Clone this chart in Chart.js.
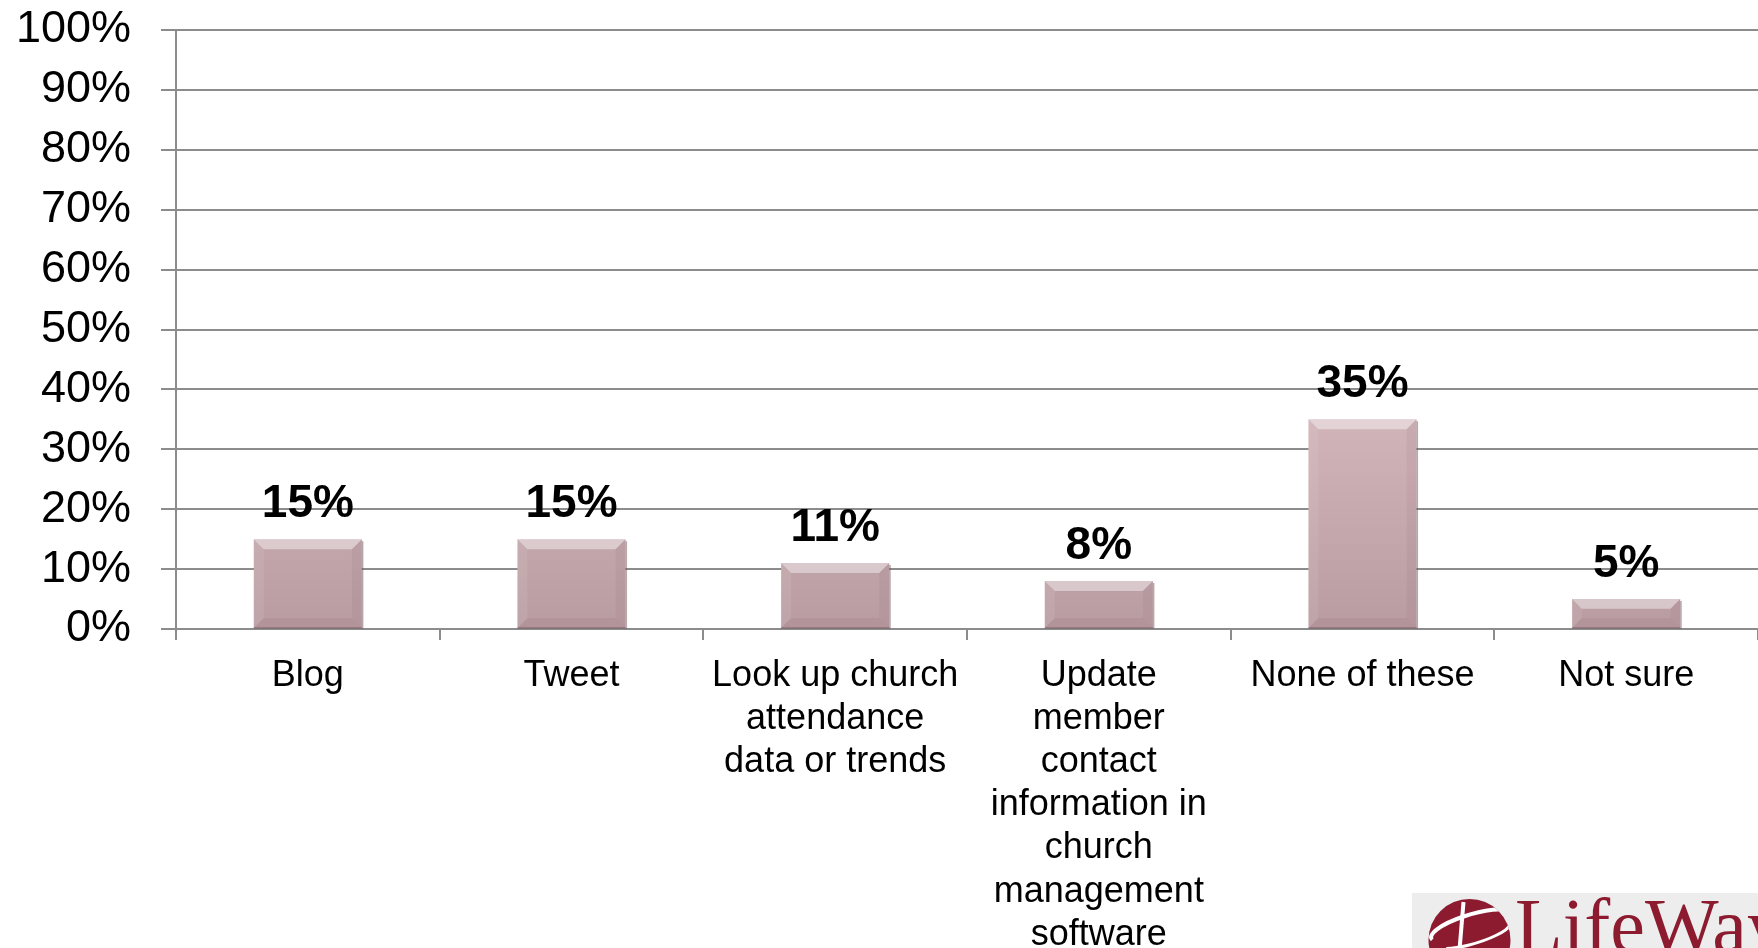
<!DOCTYPE html>
<html>
<head>
<meta charset="utf-8">
<script src="https://cdn.jsdelivr.net/npm/chart.js@4/dist/chart.umd.min.js"></script>
<style>
  html, body { margin: 0; padding: 0; background: #ffffff; }
  #wrap { width: 1758px; height: 948px; position: relative; }
</style>
</head>
<body>
<div id="wrap"><canvas id="chart" width="1758" height="948"></canvas></div>
<script>
// Survey answers and the share of respondents choosing each
const categories = [
  ['Blog'],
  ['Tweet'],
  ['Look up church', 'attendance', 'data or trends'],
  ['Update', 'member', 'contact', 'information in', 'church', 'management', 'software'],
  ['None of these'],
  ['Not sure']
];
const shares = [15, 15, 11, 8, 35, 5];
const yTicks = [0, 10, 20, 30, 40, 50, 60, 70, 80, 90, 100];

const GRID = '#8c8c8c';
const SANS = '"Liberation Sans", Arial, Helvetica, sans-serif';

// Vertical gradient fill for the bars
function barFill(ctx) {
  const chart = ctx.chart;
  const area = chart.chartArea;
  if (!area) return '#cfb1b5';
  const g = chart.ctx.createLinearGradient(0, area.top, 0, area.bottom);
  g.addColorStop(0, '#e0c8cb');
  g.addColorStop(0.55, '#d8bbbf');
  g.addColorStop(1, '#b99ca1');
  return g;
}

// Bevelled edges on each bar
const bevelPlugin = {
  id: 'bevel',
  afterDatasetsDraw(chart) {
    const c = chart.ctx;
    const meta = chart.getDatasetMeta(0);
    meta.data.forEach(bar => {
      const L = bar.x - bar.width / 2, R = bar.x + bar.width / 2;
      const T = bar.y, B = bar.base;
      const b = Math.min(10, (B - T) / 3);
      const poly = (pts, fill) => {
        c.beginPath();
        c.moveTo(pts[0][0], pts[0][1]);
        for (let i = 1; i < pts.length; i++) c.lineTo(pts[i][0], pts[i][1]);
        c.closePath();
        c.fillStyle = fill;
        c.fill();
      };
      c.save();
      poly([[L, T], [R, T], [R - b, T + b], [L + b, T + b]], 'rgba(255,255,255,0.42)');
      poly([[L, T], [L + b, T + b], [L + b, B - b], [L, B]], 'rgba(255,255,255,0.08)');
      poly([[R, T], [R, B], [R - b, B - b], [R - b, T + b]], 'rgba(90,50,60,0.06)');
      poly([[L, B], [R, B], [R - b, B - b], [L + b, B - b]], 'rgba(90,50,60,0.08)');
      c.strokeStyle = 'rgba(110,80,86,0.5)';
      c.lineWidth = 1.5;
      c.beginPath();
      c.moveTo(R + 0.75, T + 2);
      c.lineTo(R + 0.75, B);
      c.lineTo(L, B);
      c.stroke();
      c.restore();
    });
  }
};

// Bold value labels above the bars
const valueLabelPlugin = {
  id: 'valueLabels',
  afterDatasetsDraw(chart) {
    const c = chart.ctx;
    const meta = chart.getDatasetMeta(0);
    c.save();
    c.font = 'bold 46px ' + SANS;
    c.fillStyle = '#000000';
    c.textAlign = 'center';
    c.textBaseline = 'alphabetic';
    meta.data.forEach((bar, i) => {
      c.fillText(shares[i] + '%', bar.x, bar.y - 22);
    });
    c.restore();
  }
};

// Publisher mark in the lower right corner
const logoPlugin = {
  id: 'logo',
  afterDraw(chart) {
    const c = chart.ctx;
    const red = '#8d1b30';
    c.save();
    c.fillStyle = '#ededed';
    c.fillRect(1412, 893, 346, 55);
    // emblem
    const cx = 1469.5, cy = 940, r = 41;
    c.beginPath();
    c.arc(cx, cy, r, 0, Math.PI * 2);
    c.fillStyle = red;
    c.fill();
    c.save();
    c.beginPath();
    c.arc(cx, cy, r, 0, Math.PI * 2);
    c.clip();
    c.strokeStyle = '#ffffff';
    c.lineWidth = 4;
    c.beginPath();
    c.ellipse(cx + 4, cy - 14, 44, 12, -0.28, Math.PI * 0.95, Math.PI * 1.9);
    c.stroke();
    c.lineWidth = 3;
    c.beginPath();
    c.ellipse(cx + 2, cy - 6, 40, 10, -0.28, Math.PI * 0.05, Math.PI * 0.75);
    c.stroke();
    c.lineWidth = 4;
    c.beginPath();
    c.moveTo(cx - 6, cy - 38);
    c.lineTo(cx - 10, cy + 10);
    c.stroke();
    c.restore();
    // wordmark
    c.fillStyle = red;
    c.font = '78px "Liberation Serif", "Times New Roman", serif';
    c.textAlign = 'left';
    c.textBaseline = 'alphabetic';
    c.fillText('LifeWay', 1515, 952);
    c.restore();
  }
};

new Chart(document.getElementById('chart'), {
  type: 'bar',
  data: {
    labels: categories,
    datasets: [{
      data: shares,
      backgroundColor: barFill,
      borderWidth: 0,
      categoryPercentage: 1.0,
      barPercentage: 0.41
    }]
  },
  options: {
    responsive: false,
    animation: false,
    devicePixelRatio: 1,
    layout: { padding: { top: 30, right: 0, left: 0, bottom: 0 } },
    plugins: {
      legend: { display: false },
      tooltip: { enabled: false }
    },
    scales: {
      x: {
        offset: true,
        grid: {
          offset: true,
          display: true,
          drawOnChartArea: false,
          drawTicks: true,
          tickLength: 11,
          color: GRID,
          lineWidth: 2
        },
        border: { display: true, color: GRID, width: 2 },
        ticks: {
          color: '#000000',
          padding: 14,
          maxRotation: 0,
          autoSkip: false,
          font: { family: SANS, size: 36, lineHeight: 1.2 }
        },
        afterFit(scale) { scale.height = 319; }
      },
      y: {
        min: 0,
        max: 100,
        afterBuildTicks(scale) { scale.ticks = yTicks.map(v => ({ value: v })); },
        grid: {
          color: GRID,
          lineWidth: 2,
          drawTicks: true,
          tickLength: 15
        },
        border: { display: true, color: GRID, width: 2 },
        ticks: {
          color: '#000000',
          padding: 30,
          font: { family: SANS, size: 45 },
          callback: v => v + '%'
        },
        afterFit(scale) {
          scale.width = 176;
          scale.paddingTop = 0;
          scale.paddingBottom = 0;
        }
      }
    }
  },
  plugins: [bevelPlugin, valueLabelPlugin, logoPlugin]
});
</script>
</body>
</html>
